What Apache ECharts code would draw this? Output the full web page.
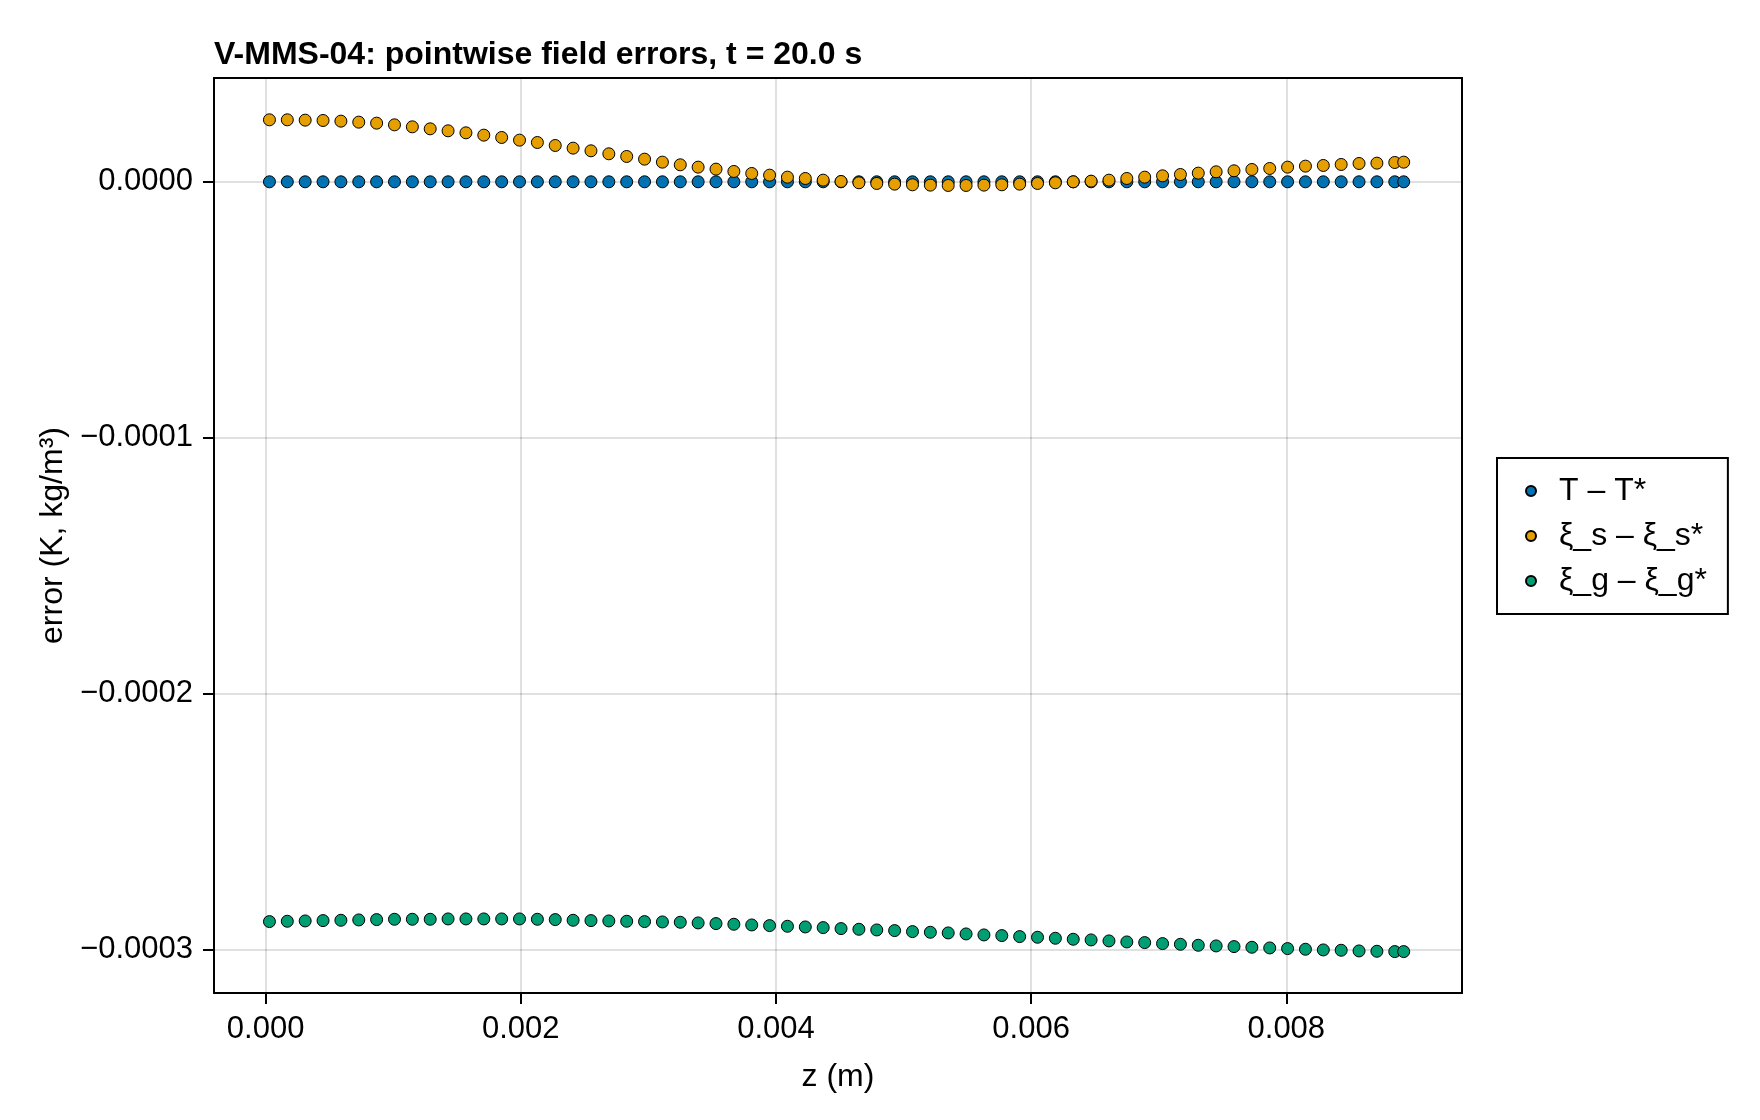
<!DOCTYPE html>
<html>
<head>
<meta charset="utf-8">
<script src="https://cdn.jsdelivr.net/npm/echarts@6/dist/echarts.min.js"></script>
<style>
  html, body {margin: 0; padding: 0; background: #fff;}
  #chart {width: 1760px; height: 1120px;}
</style>
</head>
<body>
<div id="chart"></div>
<script>
// grid positions z (m)
var zValues = [
    0.00003, 0.00017, 0.00031, 0.00045, 0.00059, 0.00073, 0.00087, 0.00101, 0.00115, 0.00129,
    0.00143, 0.00157, 0.00171, 0.00185, 0.00199, 0.00213, 0.00227, 0.00241, 0.00255, 0.00269,
    0.00283, 0.00297, 0.00311, 0.00325, 0.00339, 0.00353, 0.00367, 0.00381, 0.00395, 0.00409,
    0.00423, 0.00437, 0.00451, 0.00465, 0.00479, 0.00493, 0.00507, 0.00521, 0.00535, 0.00549,
    0.00563, 0.00577, 0.00591, 0.00605, 0.00619, 0.00633, 0.00647, 0.00661, 0.00675, 0.00689,
    0.00703, 0.00717, 0.00731, 0.00745, 0.00759, 0.00773, 0.00787, 0.00801, 0.00815, 0.00829,
    0.00843, 0.00857, 0.00871, 0.00885, 0.00892
];

// T - T*
var tErr = [
    0, 0, 0, 0, 0, 0, 0, 0, 0, 0,
    0, 0, 0, 0, 0, 0, 0, 0, 0, 0,
    0, 0, 0, 0, 0, 0, 0, 0, 0, 0,
    0, 0, 0, 0, 0, 0, 0, 0, 0, 0,
    0, 0, 0, 0, 0, 0, 0, 0, 0, 0,
    0, 0, 0, 0, 0, 0, 0, 0, 0, 0,
    0, 0, 0, 0, 0
];

// xi_s - xi_s*
var xisErr = [
    2.422e-5, 2.422e-5, 2.409e-5, 2.396e-5, 2.370e-5, 2.331e-5, 2.292e-5, 2.226e-5, 2.148e-5, 2.070e-5,
    1.992e-5, 1.914e-5, 1.823e-5, 1.732e-5, 1.628e-5, 1.536e-5, 1.419e-5, 1.315e-5, 1.211e-5, 1.094e-5,
    9.90e-6, 8.85e-6, 7.68e-6, 6.64e-6, 5.73e-6, 4.95e-6, 4.04e-6, 3.26e-6, 2.60e-6, 1.82e-6,
    1.30e-6, 6.5e-7, 1.3e-7, -3.9e-7, -6.5e-7, -9.1e-7, -1.17e-6, -1.30e-6, -1.43e-6, -1.43e-6,
    -1.30e-6, -1.17e-6, -9.1e-7, -6.5e-7, -3.9e-7, 0, 2.6e-7, 6.5e-7, 1.30e-6, 1.82e-6,
    2.34e-6, 2.86e-6, 3.39e-6, 3.91e-6, 4.30e-6, 4.82e-6, 5.21e-6, 5.73e-6, 6.12e-6, 6.38e-6,
    6.77e-6, 7.16e-6, 7.29e-6, 7.55e-6, 7.68e-6
];

// xi_g - xi_g*
var xigErr = [
    -2.8906e-4, -2.8893e-4, -2.8880e-4, -2.8867e-4, -2.8854e-4, -2.8841e-4, -2.8828e-4, -2.8815e-4, -2.8815e-4, -2.8815e-4,
    -2.8802e-4, -2.8802e-4, -2.8802e-4, -2.8802e-4, -2.8802e-4, -2.8815e-4, -2.8828e-4, -2.8854e-4, -2.8867e-4, -2.8880e-4,
    -2.8893e-4, -2.8906e-4, -2.8919e-4, -2.8932e-4, -2.8958e-4, -2.8984e-4, -2.9010e-4, -2.9037e-4, -2.9063e-4, -2.9089e-4,
    -2.9115e-4, -2.9141e-4, -2.9180e-4, -2.9206e-4, -2.9232e-4, -2.9258e-4, -2.9297e-4, -2.9323e-4, -2.9349e-4, -2.9388e-4,
    -2.9427e-4, -2.9453e-4, -2.9492e-4, -2.9518e-4, -2.9557e-4, -2.9596e-4, -2.9622e-4, -2.9661e-4, -2.9701e-4, -2.9727e-4,
    -2.9766e-4, -2.9792e-4, -2.9831e-4, -2.9857e-4, -2.9883e-4, -2.9909e-4, -2.9935e-4, -2.9961e-4, -2.9987e-4, -3.0013e-4,
    -3.0026e-4, -3.0052e-4, -3.0065e-4, -3.0078e-4, -3.0078e-4
];

var seriesNames = ['T – T*', 'ξ_s – ξ_s*', 'ξ_g – ξ_g*'];
var seriesColors = ['#0072B2', '#E69F00', '#009E73'];
var xTicks = [0, 0.002, 0.004, 0.006, 0.008];
var yTicks = [0, -0.0001, -0.0002, -0.0003];

var FONT = "'Liberation Sans', Arial, sans-serif";

function pairs(xs, ys) {
    var out = [];
    for (var i = 0; i < xs.length; i++) out.push([xs[i], ys[i]]);
    return out;
}

function fmtNum(v, digits) {//unicode minus like the original
    var s = Math.abs(v).toFixed(digits);
    return v < 0 ? '\u2212' + s : s;
}

function createErrorChart() {
    var myChart = echarts.init(document.getElementById('chart'), null, {renderer: 'canvas'});
    var allY = [tErr, xisErr, xigErr];

    var series = [];
    for (var k = 0; k < seriesNames.length; k++) {
        series.push({
            name: seriesNames[k], type: 'scatter', symbol: 'circle', symbolSize: 12,
            data: pairs(zValues, allY[k]),
            itemStyle: {color: seriesColors[k], borderColor: '#000', borderWidth: 1, opacity: 1},
            emphasis: {disabled: true}, z: 3 + k
        });
    }

    var option = {
        backgroundColor: '#fff',
        animation: false,
        textStyle: {fontFamily: FONT},
        title: {text: 'V-MMS-04: pointwise field errors, t = 20.0 s', left: 214, top: 39, padding: 0,
                textStyle: {fontFamily: FONT, fontSize: 32, fontWeight: 'bold', color: '#000'}},
        grid: {left: 214, right: 298, top: 78, bottom: 127, show: true, borderColor: '#000', borderWidth: 2, backgroundColor: 'transparent'},
        legend: {
            orient: 'vertical', left: 1497, top: 458, padding: [17, 21, 17, 28],
            itemWidth: 10, itemHeight: 10, itemGap: 13, icon: 'circle',
            borderColor: '#000', borderWidth: 2, backgroundColor: '#fff',
            textStyle: {fontFamily: FONT, fontSize: 32, color: '#000', lineHeight: 32, padding: [0, 0, 0, 18]},
            data: seriesNames
        },
        xAxis: {
            type: 'value', min: -4.046e-4, max: 0.009377,
            name: 'z (m)', nameLocation: 'middle', nameGap: 68,
            nameTextStyle: {fontFamily: FONT, fontSize: 32, color: '#000'},
            axisLine: {show: true, onZero: false, lineStyle: {color: '#000', width: 2}},
            axisTick: {show: true, customValues: xTicks, length: 11, lineStyle: {color: '#000', width: 2}},
            axisLabel: {customValues: xTicks, margin: 21, fontFamily: FONT, fontSize: 31, color: '#000',
                        formatter: function (v) { return fmtNum(v, 3); }},
            splitLine: {show: true, lineStyle: {color: 'rgba(0,0,0,0.12)', width: 2}}
        },
        yAxis: {
            type: 'value', min: -3.1696e-4, max: 4.056e-5,
            name: 'error (K, kg/m³)', nameLocation: 'middle', nameGap: 144,
            nameTextStyle: {fontFamily: FONT, fontSize: 32, color: '#000'},
            axisLine: {show: true, onZero: false, lineStyle: {color: '#000', width: 2}},
            axisTick: {show: true, customValues: yTicks, length: 11, lineStyle: {color: '#000', width: 2}},
            axisLabel: {customValues: yTicks, margin: 21, fontFamily: FONT, fontSize: 31, color: '#000',
                        formatter: function (v) { return fmtNum(v, 4); }},
            splitLine: {show: true, lineStyle: {color: 'rgba(0,0,0,0.12)', width: 2}}
        },
        series: series
    };

    myChart.setOption(option);
}

createErrorChart();
</script>
</body>
</html>
